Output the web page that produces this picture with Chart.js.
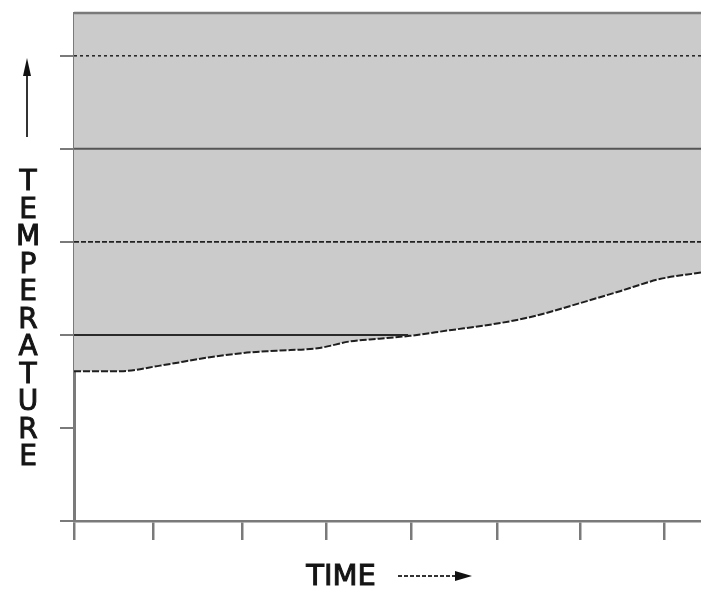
<!DOCTYPE html>
<html>
<head>
<meta charset="utf-8">
<script src="https://cdn.jsdelivr.net/npm/chart.js@4.4.1/dist/chart.umd.min.js"></script>
<style>
  html, body { margin: 0; padding: 0; background: #fff; }
  #wrap { width: 701px; height: 591px; position: relative; }
</style>
</head>
<body>
<div id="wrap"><canvas id="chart"></canvas></div>
<script>
// Werte (Zeit / Temperatur in Tick-Einheiten)
const timeVals = [0, 0.55, 1.02, 1.61, 2.05, 2.4, 2.91, 3.27, 3.62, 3.98, 4.45, 4.93, 5.4, 5.99, 6.47, 6.94, 7.43];
const tempVals = [1.61, 1.61, 1.67, 1.76, 1.81, 1.83, 1.86, 1.93, 1.96, 1.99, 2.05, 2.11, 2.19, 2.34, 2.47, 2.6, 2.67];

// Tick-Positionen (handgezeichnet, leicht unregelmäßig)
const xTicks = [0, 0.94, 1.99, 2.99, 4.0, 5.02, 6.0, 7.0];
const yTicks = [0, 1, 2, 3, 4, 5];

// Horizontale Linien im grauen Bereich
const refLevels = [5, 4, 3, 2];
const refEnds = [7.43, 7.43, 7.43, 3.96];

const xMax = 7.43;
const yMax = 5.46;
const yTitle = "TEMPERATURE";
const xTitle = "TIME";

// Linienstile für die Referenzlinien
const refStyles = [
  { color: "#2a2a2a", dash: [3, 3], width: 1.6 },
  { color: "#555555", dash: [], width: 2 },
  { color: "#222222", dash: [5, 2], width: 1.6 },
  { color: "#2a2a2a", dash: [], width: 2 }
];

var datasets = refLevels.map(function (lvl, i) {
  return {
    data: [{ x: 0, y: lvl }, { x: refEnds[i], y: lvl }],
    borderColor: refStyles[i].color,
    borderDash: refStyles[i].dash,
    borderWidth: refStyles[i].width,
    pointRadius: 0,
    fill: false,
    order: 0
  };
});

datasets.push({
  data: timeVals.map(function (t, i) { return { x: t, y: tempVals[i] }; }),
  borderColor: "#1e1e1e",
  borderDash: [7, 2],
  borderWidth: 2,
  pointRadius: 0,
  cubicInterpolationMode: "monotone",
  fill: "end",
  backgroundColor: "#cbcbcb",
  order: 1
});

// Text etwas kräftiger zeichnen (Handschrift-Look)
function heavyText(ctx, txt, x, y) {
  ctx.fillText(txt, x, y);
  ctx.strokeText(txt, x, y);
}

// Beschriftungen, Pfeile und obere Kante
const xkcdDecor = {
  id: "xkcdDecor",
  afterDraw: function (chart) {
    const ctx = chart.ctx;
    const area = chart.chartArea;
    ctx.save();

    // obere Kante
    ctx.strokeStyle = "#7a7a7a";
    ctx.lineWidth = 2.5;
    ctx.beginPath();
    ctx.moveTo(area.left, area.top);
    ctx.lineTo(area.right, area.top);
    ctx.stroke();

    // Y-Titel: Buchstaben untereinander
    ctx.fillStyle = "#151515";
    ctx.strokeStyle = "#151515";
    ctx.lineWidth = 1;
    ctx.font = '28px "DejaVu Sans"';
    ctx.textAlign = "center";
    ctx.textBaseline = "middle";
    for (let i = 0; i < yTitle.length; i++) {
      heavyText(ctx, yTitle[i], 28, 183 + i * 27.5);
    }

    // X-Titel
    ctx.font = '29px "DejaVu Sans"';
    heavyText(ctx, xTitle, 341, 577);

    // Pfeil nach oben
    ctx.strokeStyle = "#333";
    ctx.lineWidth = 2;
    ctx.beginPath();
    ctx.moveTo(27, 137);
    ctx.lineTo(27, 72);
    ctx.stroke();
    ctx.fillStyle = "#111";
    ctx.beginPath();
    ctx.moveTo(27, 58);
    ctx.lineTo(23, 76);
    ctx.lineTo(31, 76);
    ctx.closePath();
    ctx.fill();

    // Pfeil nach rechts
    ctx.strokeStyle = "#333";
    ctx.lineWidth = 1.8;
    ctx.setLineDash([4, 2]);
    ctx.beginPath();
    ctx.moveTo(398, 576);
    ctx.lineTo(458, 576);
    ctx.stroke();
    ctx.setLineDash([]);
    ctx.fillStyle = "#111";
    ctx.beginPath();
    ctx.moveTo(472, 576);
    ctx.lineTo(455, 571);
    ctx.lineTo(455, 581);
    ctx.closePath();
    ctx.fill();

    ctx.restore();
  }
};

var chart = new Chart(document.getElementById("chart"), {
  type: "line",
  data: { datasets: datasets },
  options: {
    responsive: true,
    maintainAspectRatio: false,
    animation: false,
    layout: { padding: { top: 13, left: 0, right: 0, bottom: 0 } },
    plugins: { legend: { display: false }, tooltip: { enabled: false } },
    scales: {
      x: {
        type: "linear",
        min: 0,
        max: xMax,
        afterBuildTicks: function (s) { s.ticks = xTicks.map(function (v) { return { value: v }; }); },
        afterFit: function (s) { s.height = 70; },
        ticks: { display: false },
        grid: { drawOnChartArea: false, drawTicks: true, tickLength: 19, color: "#7a7a7a", lineWidth: 2.5 },
        border: { display: true, color: "#7a7a7a", width: 2.5 }
      },
      y: {
        type: "linear",
        min: 0,
        max: yMax,
        afterBuildTicks: function (s) { s.ticks = yTicks.map(function (v) { return { value: v }; }); },
        afterFit: function (s) { s.width = 74; },
        ticks: { display: false },
        grid: { drawOnChartArea: false, drawTicks: true, tickLength: 14, color: "#7a7a7a", lineWidth: 2 },
        border: { display: true, color: "#7a7a7a", width: 3 }
      }
    }
  },
  plugins: [xkcdDecor]
});
</script>
</body>
</html>
